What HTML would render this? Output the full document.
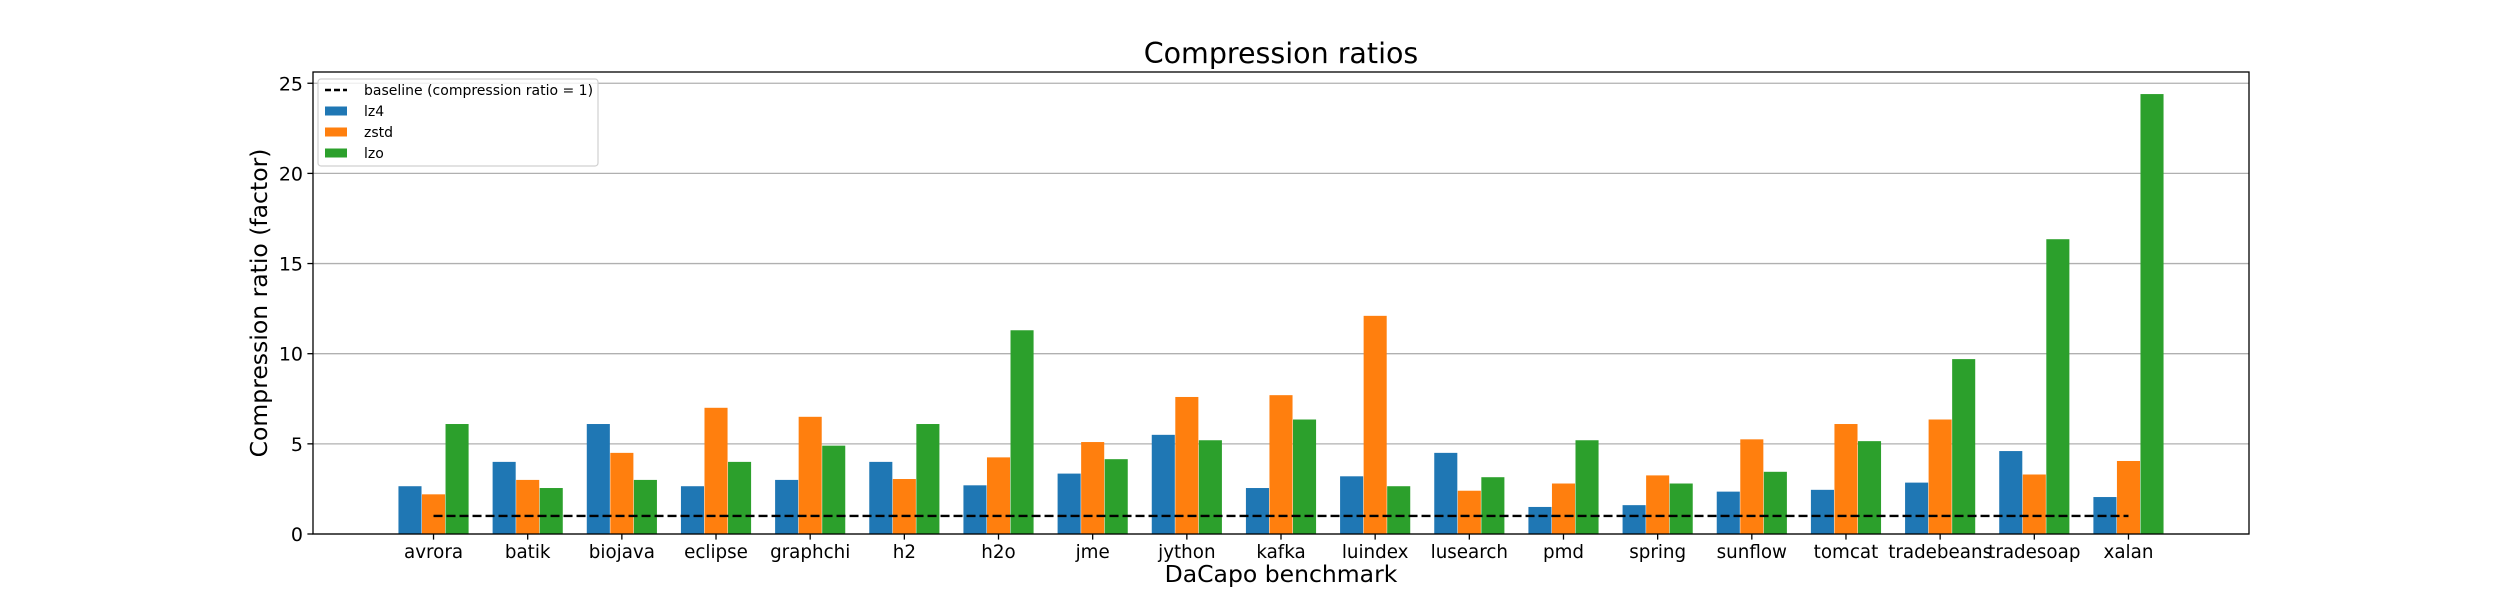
<!DOCTYPE html>
<html><head><meta charset="utf-8"><style>
html,body{margin:0;padding:0;background:#fff;}
svg{display:block;font-family:"DejaVu Sans","Liberation Sans",sans-serif;}
</style></head><body>
<svg id="chart" width="2500" height="600" viewBox="0 0 2500 600"></svg>
<script>
const categories=["avrora","batik","biojava","eclipse","graphchi","h2","h2o","jme","jython","kafka","luindex","lusearch","pmd","spring","sunflow","tomcat","tradebeans","tradesoap","xalan"];
const lz4=[2.65,4.0,6.1,2.65,3.0,4.0,2.7,3.35,5.5,2.55,3.2,4.5,1.5,1.6,2.35,2.45,2.85,4.6,2.05];
const zstd=[2.2,3.0,4.5,7.0,6.5,3.05,4.25,5.1,7.6,7.7,12.1,2.4,2.8,3.25,5.25,6.1,6.35,3.3,4.05];
const lzo=[6.1,2.55,3.0,4.0,4.9,6.1,11.3,4.15,5.2,6.35,2.65,3.15,5.2,2.8,3.45,5.15,9.7,16.35,24.4];
const yTicks=[0,5,10,15,20,25];
const baseline=1;

const NS="http://www.w3.org/2000/svg";
const svg=document.getElementById('chart');
const L=313,R=2249,T=72,B=534;
const n=categories.length;
const pad=1.28;
const xmin=-pad,xmax=(n-1)+pad;
const ymax=(B-T)/18.03;
function xs(v){return L+(v-xmin)/(xmax-xmin)*(R-L);}
function ys(v){return B-v/ymax*(B-T);}
function mk(tag,attrs,parent){const e=document.createElementNS(NS,tag);for(const k in attrs)e.setAttribute(k,attrs[k]);(parent||svg).appendChild(e);return e;}

yTicks.forEach(t=>{
  const g=mk('line',{x1:L,x2:R,y1:ys(t),y2:ys(t),stroke:'#b0b0b0','stroke-width':1.3});
  
  
});

const series=[{name:'lz4',vals:lz4,color:'#1f77b4',off:-0.25},{name:'zstd',vals:zstd,color:'#ff7f0e',off:0},{name:'lzo',vals:lzo,color:'#2ca02c',off:0.25}];
const bw=0.245;
series.forEach(s=>{
  s.vals.forEach((v,i)=>{
    const x0=xs(i+s.off-bw/2),x1=xs(i+s.off+bw/2);
    const r=mk('rect',{x:x0,y:ys(v),width:x1-x0,height:ys(0)-ys(v),fill:s.color});
    
    
  });
});

const bl=mk('line',{x1:xs(0),x2:xs(n-1),y1:ys(baseline),y2:ys(baseline),stroke:'#000','stroke-width':2.4,'stroke-dasharray':'9,4'});



const fr=mk('rect',{x:L,y:T,width:R-L,height:B-T,fill:'none',stroke:'#000','stroke-width':1.3});



yTicks.forEach(t=>{
  mk('line',{x1:L-5.6,x2:L,y1:ys(t),y2:ys(t),stroke:'#000','stroke-width':1.3});
  const tx=mk('text',{x:L-10,y:ys(t)+7,'text-anchor':'end','font-size':19,fill:'#000'});
  tx.textContent=t;
  
  
});
categories.forEach((c,i)=>{
  mk('line',{x1:xs(i),x2:xs(i),y1:B,y2:B+5.6,stroke:'#000','stroke-width':1.3});
  const tx=mk('text',{x:xs(i),y:B+24,'text-anchor':'middle','font-size':18.3,fill:'#000'});
  tx.textContent=c;
  
  
});

const title=mk('text',{x:(L+R)/2,y:63,'text-anchor':'middle','font-size':28.5,fill:'#000'});
title.textContent='Compression ratios';


const xl=mk('text',{x:(L+R)/2,y:582,'text-anchor':'middle','font-size':23.5,fill:'#000'});
xl.textContent='DaCapo benchmark';


const yl=mk('text',{x:0,y:0,'text-anchor':'middle','font-size':23.5,fill:'#000',transform:'translate(267,'+((T+B)/2)+') rotate(-90)'});
yl.textContent='Compression ratio (factor)';



const lg=mk('g',{});


mk('rect',{x:318,y:79,width:280,height:87,rx:3,fill:'#fff','fill-opacity':0.8,stroke:'#d0d0d0','stroke-width':1.2},lg);
const rows=[{label:'baseline (compression ratio = 1)',type:'line'},{label:'lz4',color:'#1f77b4'},{label:'zstd',color:'#ff7f0e'},{label:'lzo',color:'#2ca02c'}];
rows.forEach((r,k)=>{
  const y=90+k*21;
  const g=mk('g',{},lg);
  
  
  if(r.type)mk('line',{x1:325,x2:347,y1:y,y2:y,stroke:'#000','stroke-width':2.4,'stroke-dasharray':'6,3'},g);
  else mk('rect',{x:325,y:y-4.5,width:22,height:9,fill:r.color},g);
  const t=mk('text',{x:364,y:y+5,'font-size':14,fill:'#000'},g);
  t.textContent=r.label;
});
</script>
</body></html>
